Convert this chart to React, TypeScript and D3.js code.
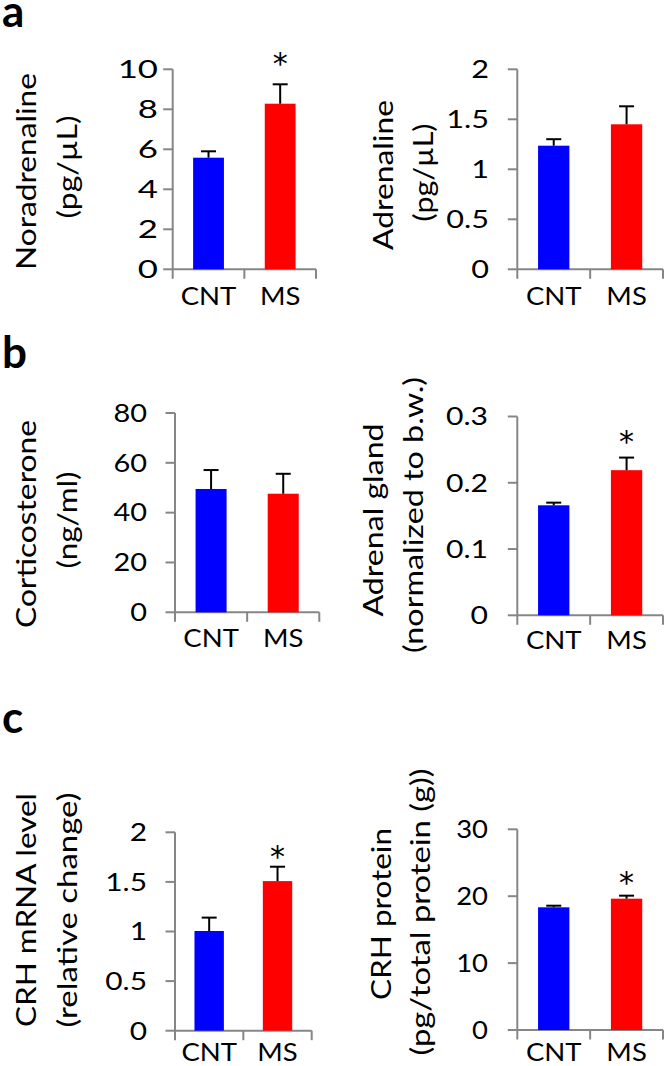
import React from "react";
import * as d3 from "d3";

// ---------- data ----------
const categories = ["CNT", "MS"];

const noradrenalineMeans = [5.58, 8.28];
const noradrenalineErrors = [0.32, 0.97];
const noradrenalineTicks = [0, 2, 4, 6, 8, 10];
const noradrenalineSignif = [false, true];

const adrenalineMeans = [1.236, 1.45];
const adrenalineErrors = [0.065, 0.18];
const adrenalineTicks = [0, 0.5, 1, 1.5, 2];
const adrenalineSignif = [false, false];

const corticosteroneMeans = [49.5, 47.6];
const corticosteroneErrors = [7.6, 8.0];
const corticosteroneTicks = [0, 20, 40, 60, 80];
const corticosteroneSignif = [false, false];

const adrenalGlandMeans = [0.166, 0.219];
const adrenalGlandErrors = [0.004, 0.019];
const adrenalGlandTicks = [0, 0.1, 0.2, 0.3];
const adrenalGlandSignif = [false, true];

const crhMrnaMeans = [1.005, 1.508];
const crhMrnaErrors = [0.135, 0.145];
const crhMrnaTicks = [0, 0.5, 1, 1.5, 2];
const crhMrnaSignif = [false, true];

const crhProteinMeans = [18.34, 19.63];
const crhProteinErrors = [0.24, 0.45];
const crhProteinTicks = [0, 10, 20, 30];
const crhProteinSignif = [false, true];

const panelLetters = ["a", "b", "c"];

// ---------- layout / style ----------
const FONT = "Lato, Carlito, Calibri, 'Open Sans', sans-serif";
const barColors = ["#0000FF", "#FF0000"];
const axisColor = "#868686";

type Panel = {
  means: number[];
  errors: number[];
  ticks: number[];
  signif: boolean[];
  title: string[];
  x0: number;
  x1: number;
  yTop: number;
  yBottom: number;
  titleBase: number[];
  titleCenter: number[];
  titleLen: number[];
  starGap: number;
  tickRight: number;
  tickStretch: number;
  catOffset: number;
};

const panels: Panel[] = [
  {
    means: noradrenalineMeans, errors: noradrenalineErrors, ticks: noradrenalineTicks, signif: noradrenalineSignif,
    title: ["Noradrenaline", "(pg/\u00B5L)"],
    x0: 172.7, x1: 316, yTop: 69.3, yBottom: 269.3,
    titleBase: [36, 77], titleCenter: [171.5, 167], titleLen: [197, 103],
    starGap: 27.5, tickRight: 158, tickStretch: 1.42, catOffset: 35.5,
  },
  {
    means: adrenalineMeans, errors: adrenalineErrors, ticks: adrenalineTicks, signif: adrenalineSignif,
    title: ["Adrenaline", "(pg/\u00B5L)"],
    x0: 517.3, x1: 663, yTop: 69.3, yBottom: 269.3,
    titleBase: [393, 433], titleCenter: [175, 172.5], titleLen: [150, 98],
    starGap: 24, tickRight: 489, tickStretch: 1.25, catOffset: 35.5,
  },
  {
    means: corticosteroneMeans, errors: corticosteroneErrors, ticks: corticosteroneTicks, signif: corticosteroneSignif,
    title: ["Corticosterone", "(ng/ml)"],
    x0: 175, x1: 319.3, yTop: 413, yBottom: 612.3,
    titleBase: [36, 77], titleCenter: [524, 520], titleLen: [208, 97],
    starGap: 24, tickRight: 147, tickStretch: 1.18, catOffset: 35,
  },
  {
    means: adrenalGlandMeans, errors: adrenalGlandErrors, ticks: adrenalGlandTicks, signif: adrenalGlandSignif,
    title: ["Adrenal gland", "(normalized to b.w.)"],
    x0: 517.3, x1: 663, yTop: 416.5, yBottom: 615.3,
    titleBase: [383, 423], titleCenter: [520, 515], titleLen: [193, 276],
    starGap: 22.5, tickRight: 488, tickStretch: 1.23, catOffset: 34,
  },
  {
    means: crhMrnaMeans, errors: crhMrnaErrors, ticks: crhMrnaTicks, signif: crhMrnaSignif,
    title: ["CRH mRNA level", "(relative change)"],
    x0: 175, x1: 311.7, yTop: 832.3, yBottom: 1030.7,
    titleBase: [36, 77], titleCenter: [910, 910], titleLen: [234, 235],
    starGap: 17, tickRight: 147, tickStretch: 1.22, catOffset: 29.8,
  },
  {
    means: crhProteinMeans, errors: crhProteinErrors, ticks: crhProteinTicks, signif: crhProteinSignif,
    title: ["CRH protein", "(pg/total protein (g))"],
    x0: 517.3, x1: 663, yTop: 829.3, yBottom: 1030,
    titleBase: [391, 430], titleCenter: [914, 912], titleLen: [172, 287],
    starGap: 20.5, tickRight: 488, tickStretch: 1.12, catOffset: 30.5,
  },
];

const letterPos = [
  { x: 2, y: 27 },
  { x: 2, y: 368 },
  { x: 2, y: 733 },
];

function BarPanel({ p }: { p: Panel }) {
  const y = d3
    .scaleLinear()
    .domain([p.ticks[0], p.ticks[p.ticks.length - 1]])
    .range([p.yBottom, p.yTop]);
  const x = d3
    .scaleBand<string>()
    .domain(categories)
    .range([p.x0, p.x1])
    .paddingInner(0.57)
    .paddingOuter(0.285);
  const step = x.step();
  const bw = x.bandwidth();
  const catTicks = d3.range(categories.length + 1).map((i) => p.x0 + i * step);
  const fmt = (v: number) => d3.format("~g")(v);
  const capHalf = 7.5;
  const starSize = 30;

  return (
    <g>
      {/* y axis */}
      <line x1={p.x0} x2={p.x0} y1={p.yTop} y2={p.yBottom} stroke={axisColor} strokeWidth={2} />
      {p.ticks.map((t) => (
        <g key={t}>
          <line x1={p.x0 - 9.5} x2={p.x0} y1={y(t)} y2={y(t)} stroke={axisColor} strokeWidth={2} />
          <text
            transform={`translate(${p.tickRight},${y(t)}) scale(${p.tickStretch},1)`}
            dy="0.36em"
            textAnchor="end"
            fontSize={24.5}
            fontFamily={FONT}
            fill="#000"
          >
            {fmt(t)}
          </text>
        </g>
      ))}
      {/* x axis */}
      <line x1={p.x0} x2={p.x1} y1={p.yBottom} y2={p.yBottom} stroke={axisColor} strokeWidth={2} />
      {catTicks.map((cx, i) => (
        <line key={i} x1={cx} x2={cx} y1={p.yBottom} y2={p.yBottom + 9.5} stroke={axisColor} strokeWidth={2} />
      ))}
      {categories.map((c) => (
        <text
          key={c}
          transform={`translate(${(x(c) as number) + bw / 2},${p.yBottom + p.catOffset}) scale(1.1,1)`}
          textAnchor="middle"
          fontSize={25}
          fontFamily={FONT}
          fill="#000"
        >
          {c}
        </text>
      ))}
      {/* bars */}
      {categories.map((c, i) => (
        <rect
          key={c}
          x={x(c) as number}
          y={y(p.means[i])}
          width={bw}
          height={p.yBottom - y(p.means[i])}
          fill={barColors[i]}
        />
      ))}
      {/* error bars */}
      {categories.map((c, i) => {
        const cx = (x(c) as number) + bw / 2;
        const top = y(p.means[i] + p.errors[i]);
        return (
          <g key={c} stroke="#000" strokeWidth={2}>
            <line x1={cx} x2={cx} y1={y(p.means[i])} y2={top} />
            <line x1={cx - capHalf} x2={cx + capHalf} y1={top} y2={top} />
          </g>
        );
      })}
      {/* significance */}
      {categories.map((c, i) =>
        p.signif[i] ? (
          <text
            key={c}
            x={(x(c) as number) + bw / 2}
            y={y(p.means[i] + p.errors[i]) - p.starGap + 0.58 * starSize}
            textAnchor="middle"
            fontSize={starSize}
            fontFamily="'DejaVu Sans', sans-serif"
            fill="#000"
          >
            *
          </text>
        ) : null
      )}
      {/* y title */}
      {p.title.map((line, k) => (
        <text
          key={k}
          transform={`translate(${p.titleBase[k]},${p.titleCenter[k]}) rotate(-90)`}
          x={-p.titleLen[k] / 2}
          textAnchor="start"
          textLength={p.titleLen[k]}
          lengthAdjust="spacingAndGlyphs"
          fontSize={27}
          fontFamily={FONT}
          fill="#000"
        >
          {line}
        </text>
      ))}
    </g>
  );
}

export default function App() {
  return (
    <svg
      width={666}
      height={1066}
      style={{ position: "absolute", left: 0, top: 0, background: "#fff" }}
    >
      <rect x={0} y={0} width={666} height={1066} fill="#fff" />
      {panelLetters.map((l, i) => (
        <text
          key={l}
          x={letterPos[i].x}
          y={letterPos[i].y}
          fontSize={44}
          fontWeight="bold"
          fontFamily={FONT}
          fill="#000"
        >
          {l}
        </text>
      ))}
      {panels.map((p, i) => (
        <BarPanel key={i} p={p} />
      ))}
    </svg>
  );
}
